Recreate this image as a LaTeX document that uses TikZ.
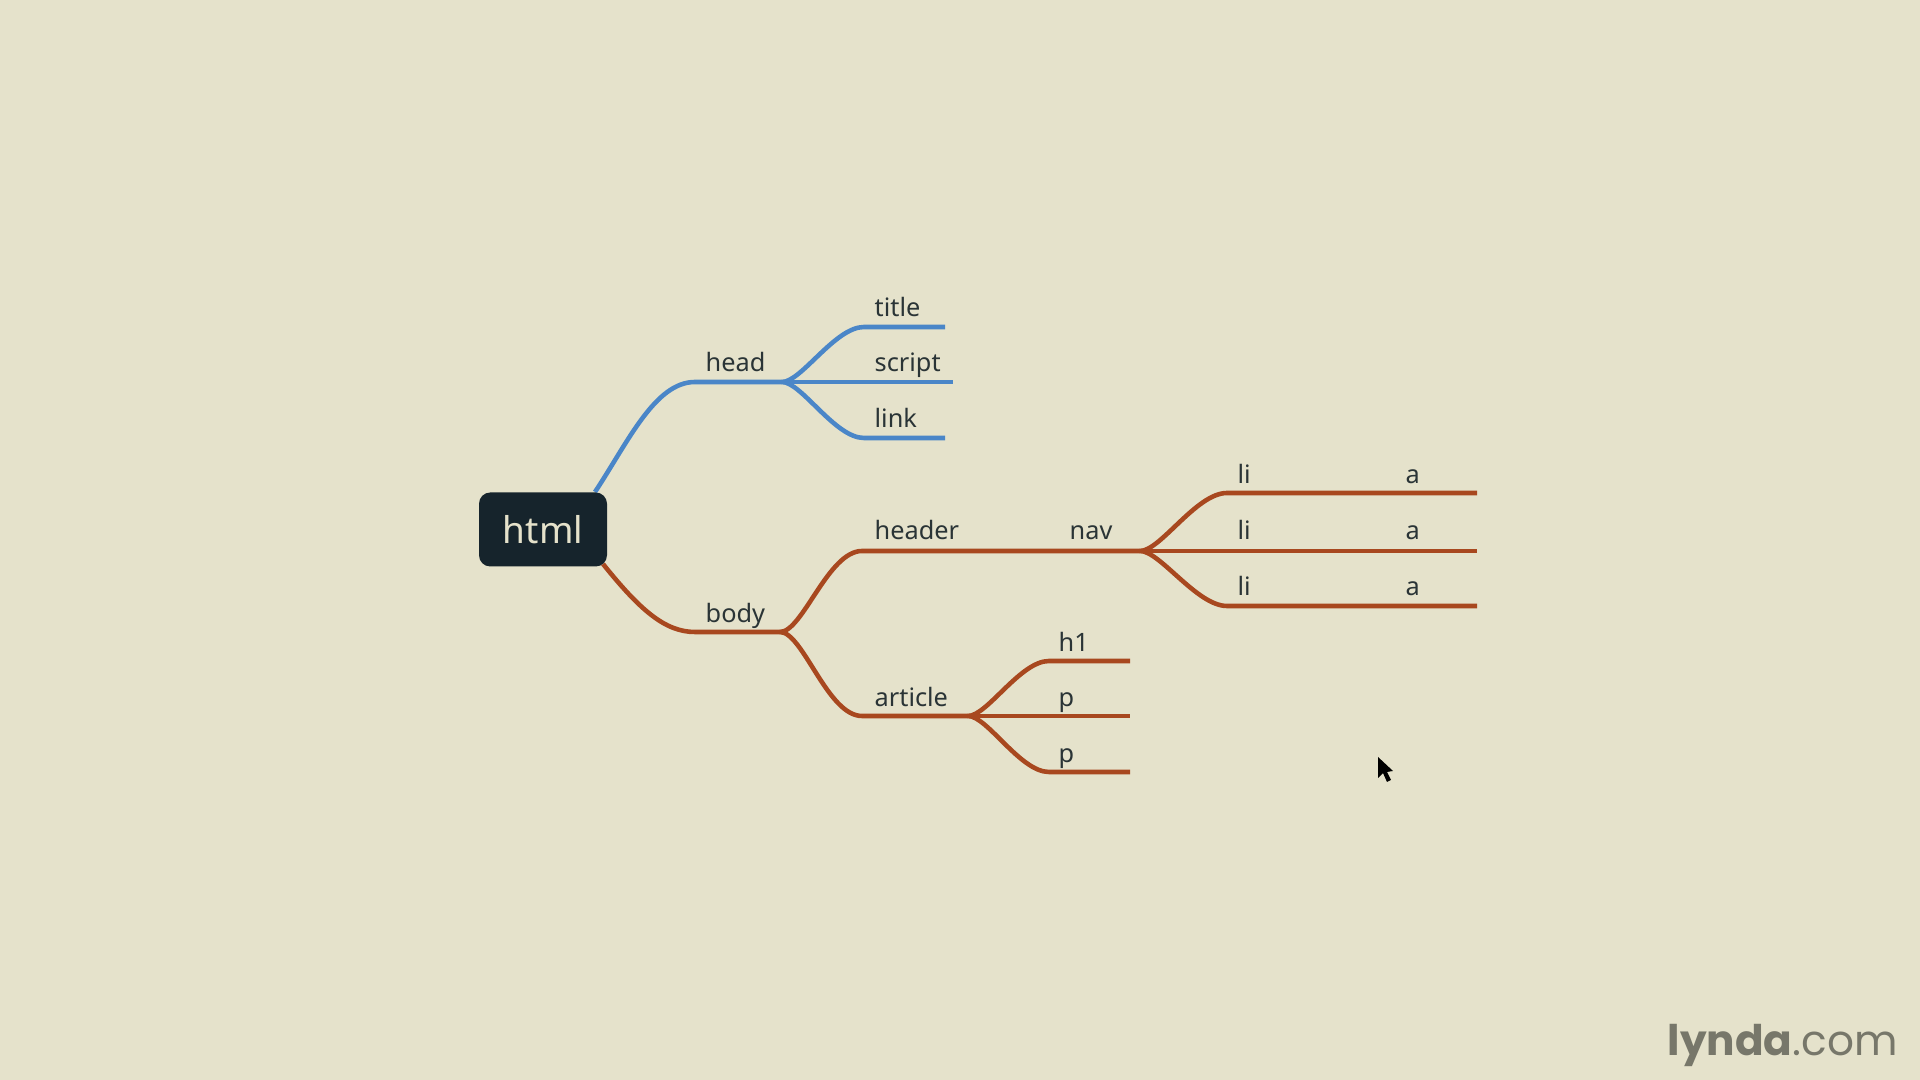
\documentclass[tikz,border=0pt]{standalone}
\usepackage{fontspec}
\setmainfont{Noto Sans}
\newfontfamily\logofont{Poppins}
\definecolor{paper}{HTML}{E5E2CB}
\definecolor{boxdark}{HTML}{16242C}
\definecolor{headblue}{HTML}{4A86C8}
\definecolor{bodyred}{HTML}{A8481F}
\definecolor{labelgray}{HTML}{2A3436}
\definecolor{logogray}{HTML}{77776A}
\tikzset{
  tag/.style={anchor=base west, inner sep=0pt, text=labelgray, font=\fontsize{7.2pt}{9pt}\selectfont},
  bluewire/.style={color=headblue, line width=1.3pt, line join=round},
  redwire/.style={color=bodyred, line width=1.3pt, line join=round},
  fork/.style={out=0, in=180, out looseness=0.5, in looseness=0.75}
}
\begin{document}
\begin{tikzpicture}[x=0.01cm, y=-0.01cm]

% Draw the background
\fill[paper] (0,0) rectangle (1920,1080);
\useasboundingbox (0,0) rectangle (1920,1080);

% the ends of the wires
\coordinate (htmlup) at (595,492);
\coordinate (htmldown) at (603,564);
\coordinate (headl) at (695,382);
\coordinate (headr) at (782,382);
\coordinate (titlel) at (864,327);
\coordinate (titler) at (945,327);
\coordinate (scriptr) at (953,382);
\coordinate (linkl) at (864,438);
\coordinate (linkr) at (945,438);
\coordinate (bodyl) at (695,632);
\coordinate (bodyr) at (780,632);
\coordinate (headerl) at (862,551);
\coordinate (headerr) at (1140,551);
\coordinate (articlel) at (862,716);
\coordinate (articler) at (968,716);
\coordinate (lionel) at (1227,493);
\coordinate (lioner) at (1477,493);
\coordinate (litwor) at (1477,551);
\coordinate (lithreel) at (1227,606);
\coordinate (lithreer) at (1477,606);
\coordinate (hl) at (1049,661);
\coordinate (hr) at (1130,661);
\coordinate (pone) at (1130,716);
\coordinate (ptwol) at (1049,772);
\coordinate (ptwor) at (1130,772);

% blue wires:
\draw[bluewire] (htmlup) .. controls (628,442) and (655,382) .. (headl) -- (headr);
\draw[bluewire] (headr) to[fork] (titlel) -- (titler);
\draw[bluewire] (headr) -- (scriptr);
\draw[bluewire] (headr) to[fork] (linkl) -- (linkr);

% red wires:
\draw[redwire] (htmldown) .. controls (640,610) and (665,632) .. (bodyl) -- (bodyr);
\draw[redwire] (bodyr) to[fork] (headerl) -- (headerr);
\draw[redwire] (bodyr) to[fork] (articlel) -- (articler);
\draw[redwire] (headerr) to[fork] (lionel) -- (lioner);
\draw[redwire] (headerr) -- (litwor);
\draw[redwire] (headerr) to[fork] (lithreel) -- (lithreer);
\draw[redwire] (articler) to[fork] (hl) -- (hr);
\draw[redwire] (articler) -- (pone);
\draw[redwire] (articler) to[fork] (ptwol) -- (ptwor);

% the root box
\node[fill=boxdark, rounded corners=3.2pt, minimum width=128*0.01cm, minimum height=74*0.01cm, inner sep=0pt,
  text=paper, font=\fontsize{10.5pt}{12pt}\selectfont] (html) at (543,529.5) {html};

% the tags
\node[tag] (head) at (705,372) {head};
\node[tag] (title) at (874,317) {title};
\node[tag] (script) at (874,372) {script};
\node[tag] (link) at (874,428) {link};
\node[tag] (body) at (705,623) {body};
\node[tag] (header) at (874,540) {header};
\node[tag] (nav) at (1069,540) {nav};
\node[tag] (article) at (874,707) {article};
\node[tag] (hone) at (1058,652) {h1};
\node[tag] (pa) at (1058,707) {p};
\node[tag] (pb) at (1058,763) {p};
\foreach \y/\name in {484/one,540/two,596/three}{
  \node[tag] (li\name) at (1237,\y) {li};
  \node[tag] (a\name) at (1405,\y) {a};
}

% cursor and logo
\fill[black] (1378,757) -- (1378,778) -- (1383,773) -- (1387,782) -- (1391,780) -- (1387,772) -- (1393,771) -- cycle;
\node[anchor=base west, inner sep=0pt, text=logogray, font=\logofont\fontsize{12pt}{14pt}\selectfont] (logo) at (1667,1055.5) {\textbf{lynda}.com};
\end{tikzpicture}
\end{document}
